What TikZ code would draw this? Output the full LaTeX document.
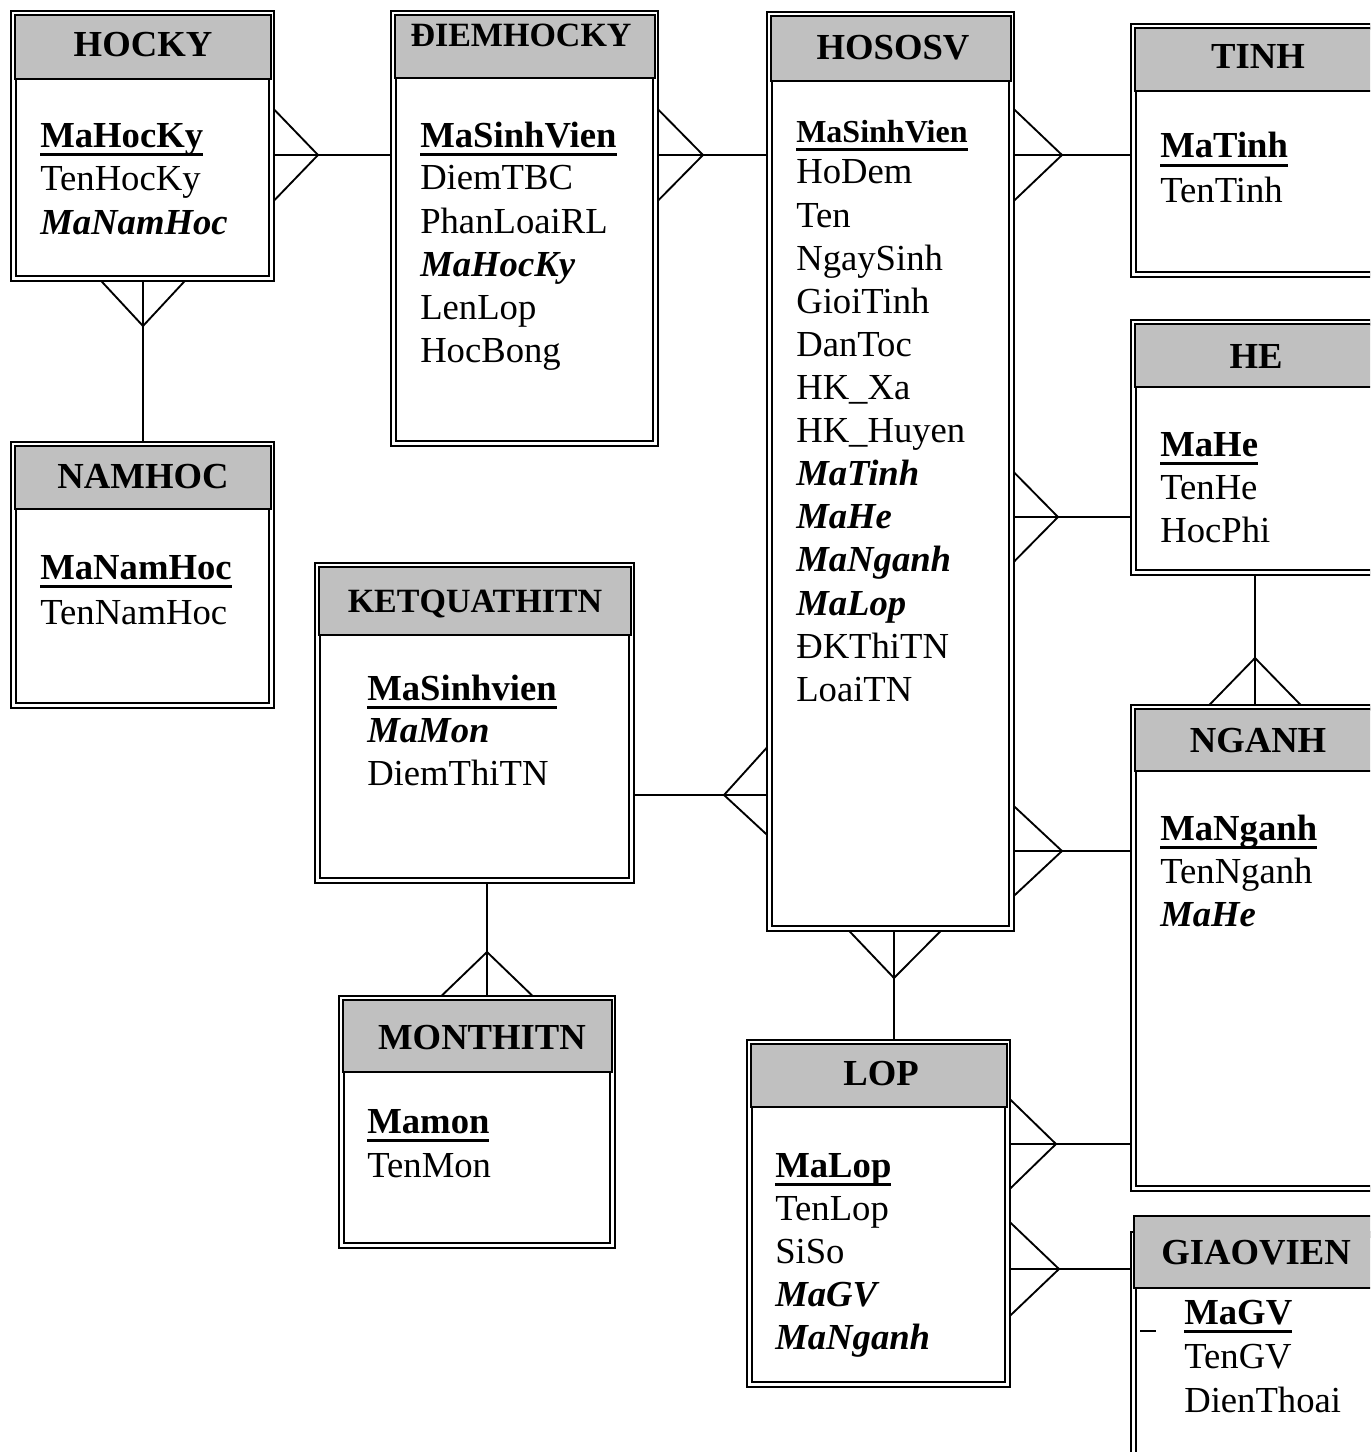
\documentclass[tikz,border=0pt]{standalone}
\usepackage{fontspec}
\setmainfont{Liberation Serif}
\usetikzlibrary{fit,calc}
\pgfdeclarelayer{paper}
\pgfdeclarelayer{links}
\pgfsetlayers{paper,links,main}
\definecolor{headgray}{HTML}{C0C0C0}

% primary key: bold with a heavy underline; foreign key: bold italic
\newcommand\pk[1]{\setbox0\hbox{\bfseries #1}\rlap{\rule[-0.24em]{\wd0}{0.075em}}\box0}
\newcommand\fk[1]{\textbf{\textit{#1}}}

% entity frame (double rule) plus grey header band
\newcommand\entitybox[6]{%
  \node[frame, fit={({#2+2.5},{#3+2.5}) ({#4-2.5},{#5-2.5})}] (#1) {};
  \node[head, fit={({#2+4},{#3+4}) ({#4-3},{#6})}] (#1-head) {};
}

\tikzset{
  frame/.style={draw, double, double distance=2pt, line width=1.8pt, inner sep=0pt},
  head/.style={draw, fill=headgray, line width=1.6pt, inner sep=0pt},
  title/.style={font=\fontsize{27.5}{33}\selectfont\bfseries, anchor=base, inner sep=0pt},
  smalltitle/.style={title, font=\fontsize{25.5}{30}\selectfont\bfseries},
  attr/.style={font=\fontsize{27.5}{33}\selectfont, anchor=base west, inner sep=0pt},
  rel/.style={line width=1.4pt}
}

\begin{document}
\begin{tikzpicture}[x=0.75pt, y=-0.75pt]
\useasboundingbox (0,0) rectangle (1370,1452);
\begin{pgfonlayer}{paper}
  \fill[white] (0,0) rectangle (1370,1452);
\end{pgfonlayer}
\clip (0,0) rectangle (1370,1452);

% ---------- entities ----------
\entitybox{hocky}{11}{11}{274}{281}{79}
\node[title] (hocky-t) at (143,57) {HOCKY};
\foreach \t [count=\i from 0] in {{\pk{MaHocKy}},TenHocKy,{\fk{MaNamHoc}}}
  \node[attr] (hocky-a\i) at (40,{147+43.5*\i}) {\t};

\entitybox{diemhocky}{391}{11}{658}{446}{78}
\node[smalltitle] (diemhocky-t) at (521,47) {ĐIEMHOCKY};
\foreach \t [count=\i from 0] in {{\pk{MaSinhVien}},DiemTBC,PhanLoaiRL,{\fk{MaHocKy}},LenLop,HocBong}
  \node[attr] (diemhocky-a\i) at (420,{147+43*\i}) {\t};

\entitybox{hososv}{767}{12}{1014}{931}{81}
\node[title] (hososv-t) at (893,60) {HOSOSV};
\node[attr, font=\fontsize{24}{29}\selectfont] (hososv-k) at (796,143) {\pk{MaSinhVien}};
\foreach \t [count=\i from 0] in {HoDem,Ten,NgaySinh,GioiTinh,DanToc,HK\_Xa,HK\_Huyen,{\fk{MaTinh}},{\fk{MaHe}},{\fk{MaNganh}},{\fk{MaLop}},ĐKThiTN,LoaiTN}
  \node[attr] (hososv-a\i) at (796,{184+43.1*\i}) {\t};

\entitybox{tinh}{1131}{24}{1400}{277}{91}
\node[title] (tinh-t) at (1258,69) {TINH};
\foreach \t [count=\i from 0] in {{\pk{MaTinh}},TenTinh}
  \node[attr] (tinh-a\i) at (1160,{158+44*\i}) {\t};

\entitybox{he}{1131}{320}{1400}{575}{387}
\node[title] (he-t) at (1256,368) {HE};
\foreach \t [count=\i from 0] in {{\pk{MaHe}},TenHe,HocPhi}
  \node[attr] (he-a\i) at (1160,{456+43*\i}) {\t};

\entitybox{nganh}{1131}{705}{1400}{1191}{771}
\node[title] (nganh-t) at (1258,752) {NGANH};
\foreach \t [count=\i from 0] in {{\pk{MaNganh}},TenNganh,{\fk{MaHe}}}
  \node[attr] (nganh-a\i) at (1160,{840+43*\i}) {\t};

% GIAOVIEN runs past the lower edge; its header sits above the frame
\node[frame, fit={(1133.5,1234.5) (1397.5,1520)}] (giaovien) {};
\node[head, fit={(1134,1216) (1397,1288)}] (giaovien-head) {};
\node[title] (giaovien-t) at (1256,1264) {GIAOVIEN};
\foreach \t [count=\i from 0] in {{\pk{MaGV}},TenGV,DienThoai}
  \node[attr] (giaovien-a\i) at (1184,{1324+44*\i}) {\t};
\draw[line width=2.2pt] (1140,1331) -- (1156,1331);

\entitybox{namhoc}{11}{442}{274}{708}{509}
\node[title] (namhoc-t) at (143,488) {NAMHOC};
\foreach \t [count=\i from 0] in {{\pk{MaNamHoc}},TenNamHoc}
  \node[attr] (namhoc-a\i) at (40,{579+45*\i}) {\t};

\entitybox{ketqua}{315}{563}{634}{883}{635}
\node[smalltitle] (ketqua-t) at (475,612) {KETQUATHITN};
\foreach \t [count=\i from 0] in {{\pk{MaSinhvien}},{\fk{MaMon}},DiemThiTN}
  \node[attr] (ketqua-a\i) at (367,{700+42.5*\i}) {\t};

\entitybox{monthi}{339}{996}{615}{1248}{1072}
\node[title] (monthi-t) at (482,1049) {MONTHITN};
\foreach \t [count=\i from 0] in {{\pk{Mamon}},TenMon}
  \node[attr] (monthi-a\i) at (367,{1133+44*\i}) {\t};

\entitybox{lop}{747}{1040}{1010}{1387}{1107}
\node[title] (lop-t) at (881,1085) {LOP};
\foreach \t [count=\i from 0] in {{\pk{MaLop}},TenLop,SiSo,{\fk{MaGV}},{\fk{MaNganh}}}
  \node[attr] (lop-a\i) at (775,{1177+43*\i}) {\t};

% ---------- relationships (crow's feet) ----------
\begin{pgfonlayer}{links}
  \coordinate (c1) at (318,155);
  \draw[rel] (hocky.east|-c1) -- (diemhocky.west|-c1);
  \draw[rel] ($(hocky.east|-c1)+(0,-47)$) -- (c1) -- ($(hocky.east|-c1)+(0,47)$);

  \coordinate (c2) at (143,326);
  \draw[rel] (c2|-hocky.south) -- (c2|-namhoc.north);
  \draw[rel] ($(c2|-hocky.south)+(-43,0)$) -- (c2) -- ($(c2|-hocky.south)+(43,0)$);

  \coordinate (c3) at (703,155);
  \draw[rel] (diemhocky.east|-c3) -- (hososv.west|-c3);
  \draw[rel] ($(diemhocky.east|-c3)+(0,-47)$) -- (c3) -- ($(diemhocky.east|-c3)+(0,47)$);

  \coordinate (c4) at (1062,155);
  \draw[rel] (hososv.east|-c4) -- (tinh.west|-c4);
  \draw[rel] ($(hososv.east|-c4)+(0,-47)$) -- (c4) -- ($(hososv.east|-c4)+(0,47)$);

  \coordinate (c5) at (1058,517);
  \draw[rel] (hososv.east|-c5) -- (he.west|-c5);
  \draw[rel] ($(hososv.east|-c5)+(0,-46)$) -- (c5) -- ($(hososv.east|-c5)+(0,46)$);

  \coordinate (c6) at (1255,658);
  \draw[rel] (c6|-he.south) -- (c6|-nganh.north);
  \draw[rel] ($(c6|-nganh.north)+(-47,0)$) -- (c6) -- ($(c6|-nganh.north)+(47,0)$);

  \coordinate (c7) at (1062,851);
  \draw[rel] (hososv.east|-c7) -- (nganh.west|-c7);
  \draw[rel] ($(hososv.east|-c7)+(0,-46)$) -- (c7) -- ($(hososv.east|-c7)+(0,46)$);

  \coordinate (c8) at (1056,1144);
  \draw[rel] (lop.east|-c8) -- (nganh.west|-c8);
  \draw[rel] ($(lop.east|-c8)+(0,-46)$) -- (c8) -- ($(lop.east|-c8)+(0,46)$);

  \coordinate (c9) at (1059,1269);
  \draw[rel] (lop.east|-c9) -- (giaovien.west|-c9);
  \draw[rel] ($(lop.east|-c9)+(0,-48)$) -- (c9) -- ($(lop.east|-c9)+(0,48)$);

  \coordinate (c10) at (894,978);
  \draw[rel] (c10|-hososv.south) -- (c10|-lop.north);
  \draw[rel] ($(c10|-hososv.south)+(-46,0)$) -- (c10) -- ($(c10|-hososv.south)+(48,0)$);

  \coordinate (c11) at (724,795);
  \draw[rel] (ketqua.east|-c11) -- (hososv.west|-c11);
  \draw[rel] ($(hososv.west|-c11)+(0,-49)$) -- (c11) -- ($(hososv.west|-c11)+(0,41)$);

  \coordinate (c12) at (487,952);
  \draw[rel] (c12|-ketqua.south) -- (c12|-monthi.north);
  \draw[rel] ($(c12|-monthi.north)+(-47,0)$) -- (c12) -- ($(c12|-monthi.north)+(47,0)$);
\end{pgfonlayer}
\end{tikzpicture}
\end{document}
